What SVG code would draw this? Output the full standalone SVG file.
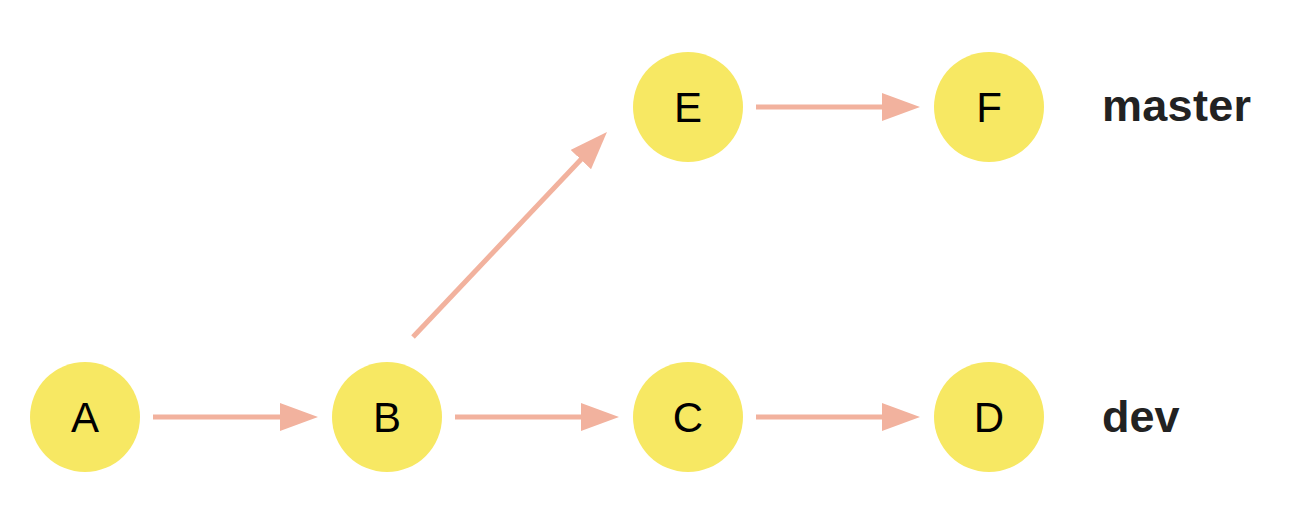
<svg xmlns="http://www.w3.org/2000/svg" width="1294" height="508" viewBox="0 0 1294 508">
  <style>
    .commit { fill: #F7E863; }
    .commit-label { font-family: "Liberation Sans", Arial, sans-serif; font-size: 42px; fill: #000; text-anchor: middle; }
    .branch { font-family: "Liberation Sans", Arial, sans-serif; font-size: 45px; font-weight: bold; fill: #222; }
    .edge { stroke: #F2B29E; stroke-width: 5; fill: none; marker-end: url(#head); }
  </style>
  <defs>
    <!-- arrowhead: the line stops 10px short of the tip so the point stays sharp -->
    <marker id="head" markerUnits="userSpaceOnUse" markerWidth="40" markerHeight="30" refX="28" refY="14" orient="auto">
      <path d="M0,0 L38,14 L0,28 Z" fill="#F2B29E"/>
    </marker>
  </defs>
  <rect width="1294" height="508" fill="#FFFFFF"/>

  <g id="connectors">
    <line class="edge" x1="153" y1="417" x2="308" y2="417"/>
    <line class="edge" x1="455" y1="417" x2="609" y2="417"/>
    <line class="edge" x1="756" y1="417" x2="910" y2="417"/>
    <line class="edge" x1="756" y1="107" x2="910" y2="107"/>
    <line class="edge" x1="413" y1="337" x2="600.1" y2="139.3"/>
  </g>

  <g id="node-A">
    <circle class="commit" cx="85" cy="417" r="55"/>
    <text class="commit-label" x="85" y="432">A</text>
  </g>
  <g id="node-B">
    <circle class="commit" cx="387" cy="417" r="55"/>
    <text class="commit-label" x="387" y="432">B</text>
  </g>
  <g id="node-C">
    <circle class="commit" cx="688" cy="417" r="55"/>
    <text class="commit-label" x="688" y="432">C</text>
  </g>
  <g id="node-D">
    <circle class="commit" cx="989" cy="417" r="55"/>
    <text class="commit-label" x="989" y="432">D</text>
  </g>
  <g id="node-E">
    <circle class="commit" cx="688" cy="107" r="55"/>
    <text class="commit-label" x="688" y="122">E</text>
  </g>
  <g id="node-F">
    <circle class="commit" cx="989" cy="107" r="55"/>
    <text class="commit-label" x="989" y="122">F</text>
  </g>

  <g id="branch-master">
    <text class="branch" x="1102" y="121" textLength="149" lengthAdjust="spacing">master</text>
  </g>
  <g id="branch-dev">
    <text class="branch" x="1102" y="432">dev</text>
  </g>
</svg>
